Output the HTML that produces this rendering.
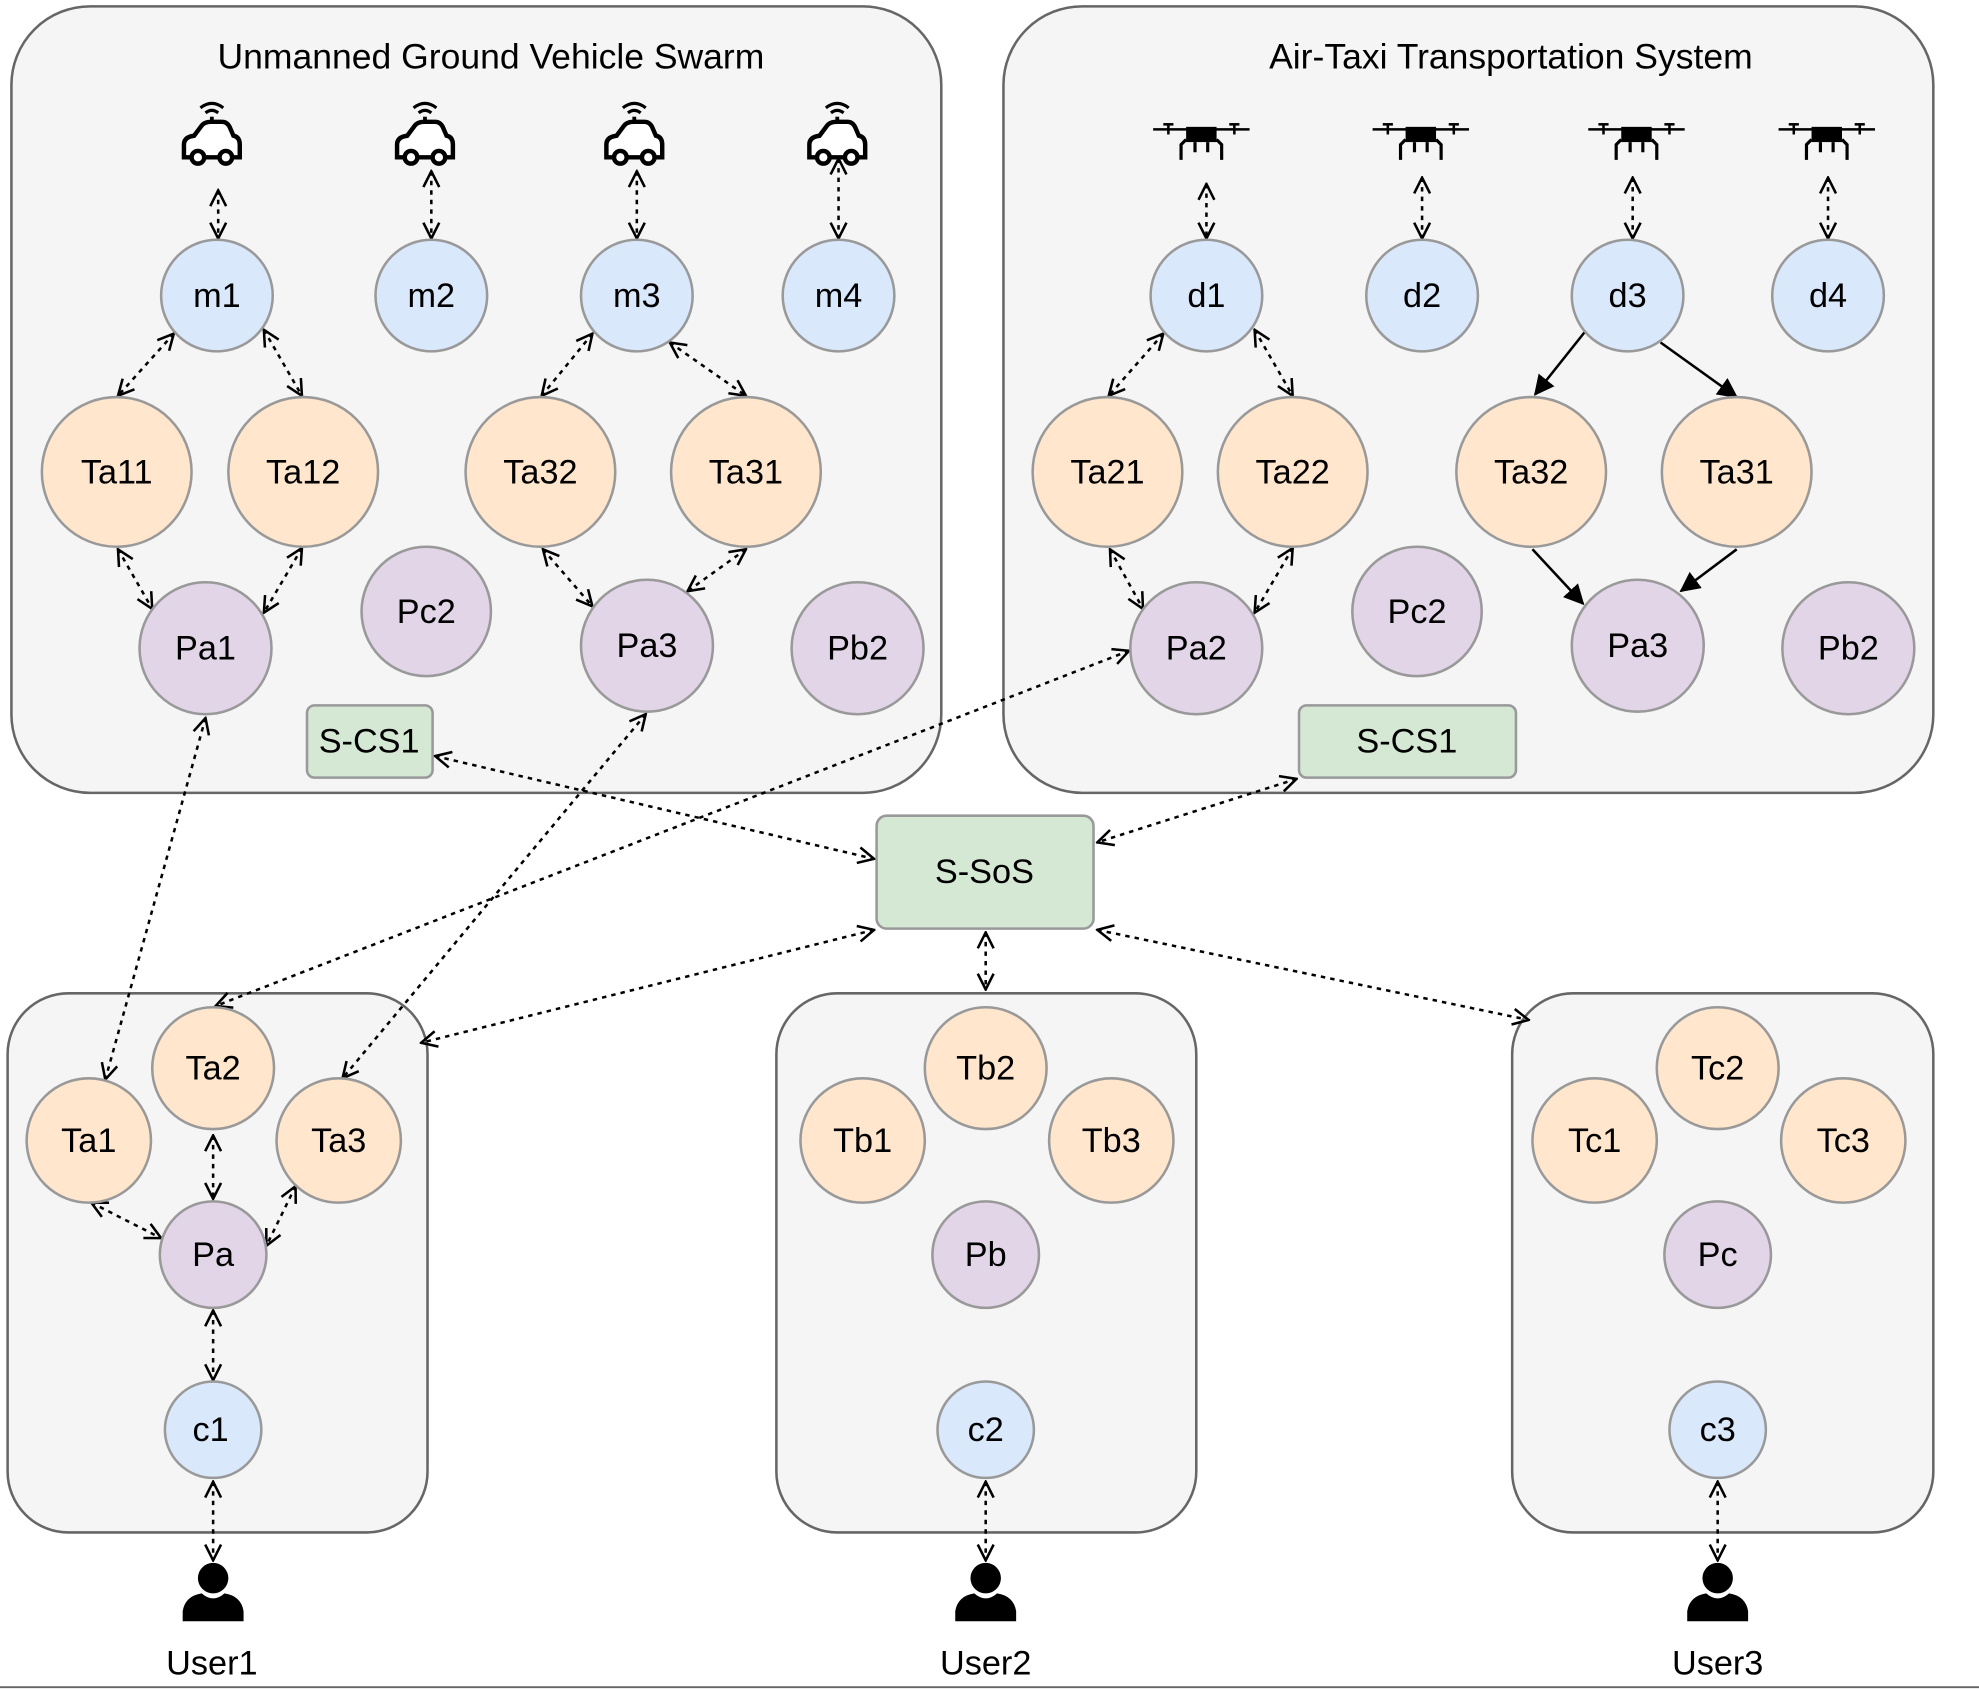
<!DOCTYPE html>
<html><head><meta charset="utf-8"><style>
html,body{margin:0;padding:0;background:#fff;}
svg{display:block;}
text{font-family:"Liberation Sans",sans-serif;fill:#000;}
</style></head><body>
<svg width="1979" height="1689" viewBox="0 0 1560 1331.4" preserveAspectRatio="none" xmlns="http://www.w3.org/2000/svg">
<defs>
<marker id="o" viewBox="0 0 12 12" refX="11" refY="6" markerWidth="15" markerHeight="15" markerUnits="userSpaceOnUse" orient="auto-start-reverse">
<path d="M1,1 L11,6 L1,11" fill="none" stroke="#000" stroke-width="1.6"/></marker>
<marker id="f" viewBox="0 0 12 12" refX="11" refY="6" markerWidth="16" markerHeight="16" markerUnits="userSpaceOnUse" orient="auto">
<path d="M0,0 L12,6 L0,12 z" fill="#000"/></marker>
<g id="car"><path d="M-22,12 L-22,2 Q-22,-4 -14,-5 L-8,-13 Q-6,-16 0,-16 L8,-16 Q12,-16 14,-12 L17,-5 Q22,-4 22,2 L22,12 Z" fill="#fff" stroke="#000" stroke-width="3.5"/>
<circle cx="-11" cy="12" r="5" fill="#fff" stroke="#000" stroke-width="3.5"/><circle cx="11" cy="12" r="5" fill="#fff" stroke="#000" stroke-width="3.5"/>
<line x1="0" y1="-16" x2="0" y2="-20" stroke="#000" stroke-width="3"/>
<path d="M-5,-23 Q0,-27 5,-23 M-9,-27 Q0,-34 9,-27" fill="none" stroke="#000" stroke-width="2.5"/></g>
<g id="drone"><line x1="-38" y1="-6" x2="38" y2="-6" stroke="#000" stroke-width="2"/>
<line x1="-30" y1="-10" x2="-22" y2="-10" stroke="#000" stroke-width="2"/><line x1="22" y1="-10" x2="30" y2="-10" stroke="#000" stroke-width="2"/>
<line x1="-26" y1="-10" x2="-26" y2="-2" stroke="#000" stroke-width="2"/><line x1="26" y1="-10" x2="26" y2="-2" stroke="#000" stroke-width="2"/>
<rect x="-12" y="-8" width="24" height="12" fill="#000"/>
<path d="M-12,2 L-16,6 L-16,18 M12,2 L16,6 L16,18 M-5,4 L-5,12 M5,4 L5,12" fill="none" stroke="#000" stroke-width="2.5"/></g>
<g id="user"><circle cx="0" cy="-14" r="12" fill="#000"/><path d="M-24,20 L-24,12 Q-22,0 -9,-2 Q0,6 9,-2 Q22,0 24,12 L24,20 Z" fill="#000"/></g>
</defs>
<g fill="#f5f5f5" stroke="#666" stroke-width="2">
<rect x="9" y="5" width="733" height="620" rx="62"/>
<rect x="791" y="5" width="733" height="620" rx="62"/>
<rect x="6" y="783" width="331" height="425" rx="48"/>
<rect x="612" y="783" width="331" height="425" rx="48"/>
<rect x="1192" y="783" width="332" height="425" rx="48"/>
</g>
<text x="387" y="54" font-size="28" text-anchor="middle">Unmanned Ground Vehicle Swarm</text>
<text x="1191" y="54" font-size="28" text-anchor="middle">Air-Taxi Transportation System</text>
<use href="#car" x="167" y="112"/><use href="#car" x="335" y="112"/><use href="#car" x="500" y="112"/><use href="#car" x="660" y="112"/>
<use href="#drone" x="947" y="108"/><use href="#drone" x="1120" y="108"/><use href="#drone" x="1290" y="108"/><use href="#drone" x="1440" y="108"/>
<use href="#user" x="168" y="1258"/><use href="#user" x="777" y="1258"/><use href="#user" x="1354" y="1258"/>
<g stroke="#000" stroke-width="2" stroke-dasharray="3.5,4" fill="none" marker-start="url(#o)" marker-end="url(#o)">
<line x1="172" y1="150" x2="172" y2="188"/><line x1="340" y1="135" x2="340" y2="188"/><line x1="502" y1="135" x2="502" y2="188"/><line x1="661" y1="125" x2="661" y2="188"/>
<line x1="951" y1="145" x2="951" y2="188"/><line x1="1121" y1="140" x2="1121" y2="188"/><line x1="1287" y1="140" x2="1287" y2="188"/><line x1="1441" y1="140" x2="1441" y2="188"/>
<line x1="137" y1="263" x2="93" y2="312"/><line x1="208" y1="260" x2="238" y2="312"/>
<line x1="93" y1="433" x2="120" y2="480"/><line x1="238" y1="432" x2="208" y2="483"/>
<line x1="467" y1="263" x2="427" y2="312"/><line x1="528" y1="270" x2="588" y2="312"/>
<line x1="428" y1="433" x2="467" y2="478"/><line x1="588" y1="433" x2="542" y2="466"/>
<line x1="917" y1="263" x2="874" y2="312"/><line x1="989" y1="260" x2="1019" y2="312"/>
<line x1="875" y1="433" x2="901" y2="480"/><line x1="1019" y1="432" x2="989" y2="483"/>
<line x1="162" y1="566" x2="83" y2="851"/>
<line x1="509" y1="563" x2="270" y2="850"/>
<line x1="890" y1="513" x2="170" y2="793"/>
<line x1="343" y1="596" x2="689" y2="677"/>
<line x1="1022" y1="614" x2="865" y2="664"/>
<line x1="689" y1="733" x2="332" y2="822"/>
<line x1="777" y1="735" x2="777" y2="780"/>
<line x1="865" y1="733" x2="1205" y2="804"/>
<line x1="168" y1="895" x2="168" y2="945"/><line x1="72" y1="948" x2="127" y2="976"/><line x1="233" y1="935" x2="210" y2="982"/>
<line x1="168" y1="1033" x2="168" y2="1088"/>
<line x1="168" y1="1168" x2="168" y2="1230"/><line x1="777" y1="1168" x2="777" y2="1230"/><line x1="1354" y1="1168" x2="1354" y2="1230"/>
</g>
<g stroke="#000" stroke-width="2" marker-end="url(#f)">
<line x1="1249" y1="262" x2="1210" y2="311"/><line x1="1309" y1="270" x2="1369" y2="313"/>
<line x1="1208" y1="433" x2="1248" y2="476"/><line x1="1369" y1="433" x2="1325" y2="466"/>
</g>
<g stroke="#999" stroke-width="2">
<g fill="#dae8fc">
<circle cx="171" cy="233" r="44"/><circle cx="340" cy="233" r="44"/><circle cx="502" cy="233" r="44"/><circle cx="661" cy="233" r="44"/>
<circle cx="951" cy="233" r="44"/><circle cx="1121" cy="233" r="44"/><circle cx="1283" cy="233" r="44"/><circle cx="1441" cy="233" r="44"/>
<circle cx="168" cy="1127" r="38"/><circle cx="777" cy="1127" r="38"/><circle cx="1354" cy="1127" r="38"/>
</g>
<g fill="#ffe6cc">
<circle cx="92" cy="372" r="59"/><circle cx="239" cy="372" r="59"/><circle cx="426" cy="372" r="59"/><circle cx="588" cy="372" r="59"/>
<circle cx="873" cy="372" r="59"/><circle cx="1019" cy="372" r="59"/><circle cx="1207" cy="372" r="59"/><circle cx="1369" cy="372" r="59"/>
<circle cx="168" cy="842" r="48"/><circle cx="70" cy="899" r="49"/><circle cx="267" cy="899" r="49"/>
<circle cx="777" cy="842" r="48"/><circle cx="680" cy="899" r="49"/><circle cx="876" cy="899" r="49"/>
<circle cx="1354" cy="842" r="48"/><circle cx="1257" cy="899" r="49"/><circle cx="1453" cy="899" r="49"/>
</g>
<g fill="#e1d5e7">
<circle cx="162" cy="511" r="52"/><circle cx="336" cy="482" r="51"/><circle cx="510" cy="509" r="52"/><circle cx="676" cy="511" r="52"/>
<circle cx="943" cy="511" r="52"/><circle cx="1117" cy="482" r="51"/><circle cx="1291" cy="509" r="52"/><circle cx="1457" cy="511" r="52"/>
<circle cx="168" cy="989" r="42"/><circle cx="777" cy="989" r="42"/><circle cx="1354" cy="989" r="42"/>
</g>
<g fill="#d5e8d4">
<rect x="242" y="556" width="99" height="57" rx="6"/>
<rect x="1024" y="556" width="171" height="57" rx="6"/>
<rect x="691" y="643" width="171" height="89" rx="8"/>
</g>
</g>
<g font-size="27" text-anchor="middle">
<text x="171" y="242">m1</text><text x="340" y="242">m2</text><text x="502" y="242">m3</text><text x="661" y="242">m4</text>
<text x="951" y="242">d1</text><text x="1121" y="242">d2</text><text x="1283" y="242">d3</text><text x="1441" y="242">d4</text>
<text x="92" y="381">Ta11</text><text x="239" y="381">Ta12</text><text x="426" y="381">Ta32</text><text x="588" y="381">Ta31</text>
<text x="873" y="381">Ta21</text><text x="1019" y="381">Ta22</text><text x="1207" y="381">Ta32</text><text x="1369" y="381">Ta31</text>
<text x="162" y="520">Pa1</text><text x="336" y="491">Pc2</text><text x="510" y="518">Pa3</text><text x="676" y="520">Pb2</text>
<text x="943" y="520">Pa2</text><text x="1117" y="491">Pc2</text><text x="1291" y="518">Pa3</text><text x="1457" y="520">Pb2</text>
<text x="291" y="593">S-CS1</text><text x="1109" y="593">S-CS1</text><text x="776" y="696">S-SoS</text>
<text x="168" y="851">Ta2</text><text x="70" y="908">Ta1</text><text x="267" y="908">Ta3</text><text x="168" y="998">Pa</text><text x="166" y="1136">c1</text>
<text x="777" y="851">Tb2</text><text x="680" y="908">Tb1</text><text x="876" y="908">Tb3</text><text x="777" y="998">Pb</text><text x="777" y="1136">c2</text>
<text x="1354" y="851">Tc2</text><text x="1257" y="908">Tc1</text><text x="1453" y="908">Tc3</text><text x="1354" y="998">Pc</text><text x="1354" y="1136">c3</text>
<text x="167" y="1320">User1</text><text x="777" y="1320">User2</text><text x="1354" y="1320">User3</text>
</g>
<line x1="0" y1="1330" x2="1560" y2="1330" stroke="#666" stroke-width="1.5"/>
</svg>
</body></html>
